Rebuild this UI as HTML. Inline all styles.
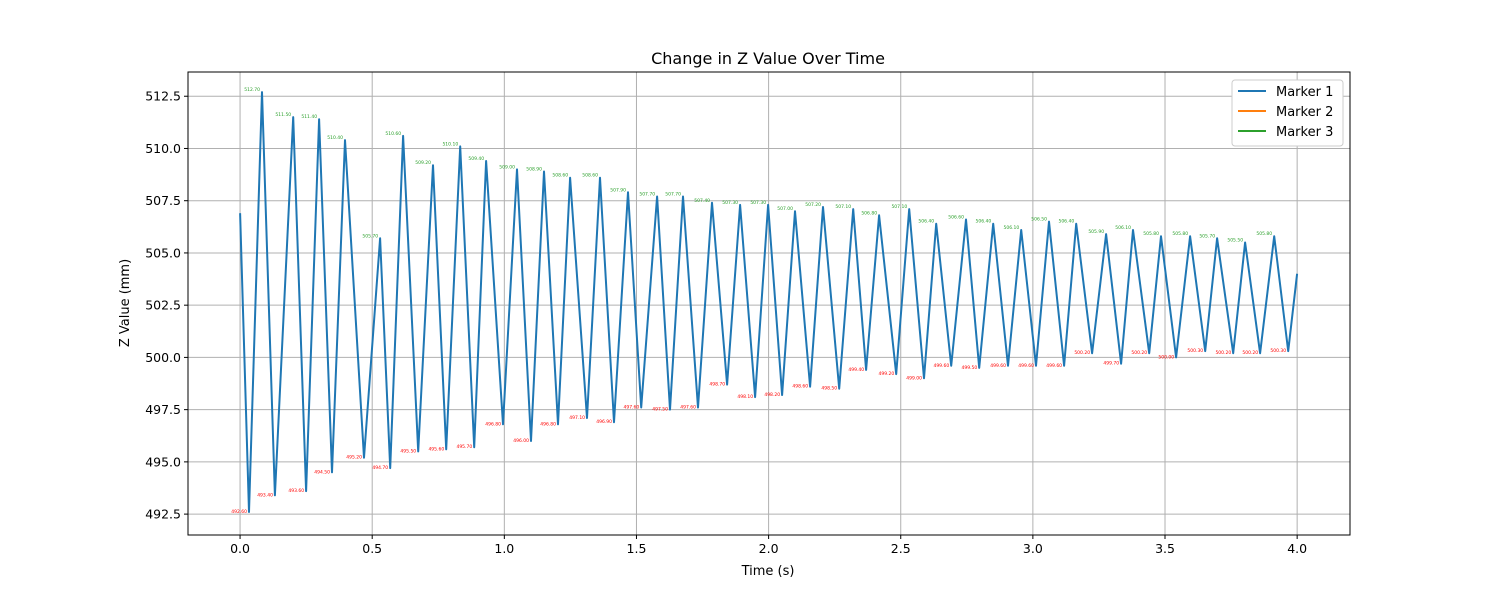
<!DOCTYPE html>
<html><head><meta charset="utf-8"><style>
body{margin:0;background:#fff;font-family:"Liberation Sans","DejaVu Sans",sans-serif}
svg text{font-family:"DejaVu Sans","Liberation Sans",sans-serif}
</style></head><body>
<svg id="chart" width="1500" height="600" viewBox="0 0 1500 600" xmlns="http://www.w3.org/2000/svg">
<rect width="1500" height="600" fill="#fff"/>
<text x="768" y="64" font-size="16" text-anchor="middle">Change in Z Value Over Time</text>
<text x="768" y="575" font-size="13" text-anchor="middle">Time (s)</text>
<text transform="translate(129,303) rotate(-90)" font-size="13" text-anchor="middle">Z Value (mm)</text>
<g id="grid"></g><g id="ticks"></g><g id="series"></g><g id="labels"></g>
<rect x="188" y="72" width="1162" height="463" fill="none" stroke="#000" stroke-width="1"/>
<g>
<rect x="1232" y="80" width="111" height="66" rx="3" fill="#fff" stroke="#ccc"/>
<line x1="1238" y1="91" x2="1266" y2="91" stroke="#1f77b4" stroke-width="2"/>
<text x="1276" y="96" font-size="13">Marker 1</text>
<line x1="1238" y1="111" x2="1266" y2="111" stroke="#ff7f0e" stroke-width="2"/>
<text x="1276" y="116" font-size="13">Marker 2</text>
<line x1="1238" y1="131" x2="1266" y2="131" stroke="#2ca02c" stroke-width="2"/>
<text x="1276" y="136" font-size="13">Marker 3</text>
</g>
</svg>
<script>
const xTicks=[0,0.5,1.0,1.5,2.0,2.5,3.0,3.5,4.0];
const yTicks=[492.5,495.0,497.5,500.0,502.5,505.0,507.5,510.0,512.5];
const startPoint=[0,506.9];
const endPoint=[4.0,504.0];
const troughTimes=[0.034,0.132,0.250,0.348,0.469,0.568,0.674,0.780,0.886,0.995,1.101,1.203,1.313,1.415,1.518,1.627,1.733,1.843,1.949,2.051,2.157,2.267,2.369,2.483,2.588,2.691,2.797,2.906,3.012,3.118,3.224,3.334,3.440,3.542,3.652,3.758,3.860,3.966];
const troughValues=[492.6,493.4,493.6,494.5,495.2,494.7,495.5,495.6,495.7,496.8,496.0,496.8,497.1,496.9,497.6,497.5,497.6,498.7,498.1,498.2,498.6,498.5,499.4,499.2,499.0,499.6,499.5,499.6,499.6,499.6,500.2,499.7,500.2,500.0,500.3,500.2,500.2,500.3];
const peakTimes=[0.083,0.201,0.299,0.397,0.530,0.617,0.730,0.833,0.931,1.048,1.150,1.249,1.362,1.468,1.578,1.676,1.786,1.892,1.998,2.100,2.206,2.320,2.418,2.532,2.634,2.747,2.850,2.956,3.061,3.164,3.277,3.379,3.485,3.595,3.697,3.803,3.913];
const peakValues=[512.7,511.5,511.4,510.4,505.7,510.6,509.2,510.1,509.4,509.0,508.9,508.6,508.6,507.9,507.7,507.7,507.4,507.3,507.3,507.0,507.2,507.1,506.8,507.1,506.4,506.6,506.4,506.1,506.5,506.4,505.9,506.1,505.8,505.8,505.7,505.5,505.8];

const NS="http://www.w3.org/2000/svg";
const X0=188,X1=1350,Y0=535,Y1=72,XMIN=-0.197,XMAX=4.2,YMIN=491.5,YMAX=513.66;
function sx(t){return X0+(t-XMIN)/(XMAX-XMIN)*(X1-X0);}
function sy(v){return Y0-(v-YMIN)/(YMAX-YMIN)*(Y0-Y1);}
function mk(tag,attrs,parent){const e=document.createElementNS(NS,tag);for(const k in attrs)e.setAttribute(k,attrs[k]);parent.appendChild(e);return e;}
const grid=document.getElementById('grid'),ticks=document.getElementById('ticks'),series=document.getElementById('series'),labels=document.getElementById('labels');
xTicks.forEach(t=>{const x=sx(t);
 const g=mk('line',{x1:x,x2:x,y1:Y1,y2:Y0,stroke:'#b0b0b0','stroke-width':1},grid);
 
 
 mk('line',{x1:x,x2:x,y1:Y0,y2:Y0+4,stroke:'#000'},ticks);
 const tx=mk('text',{x:x,y:Y0+18,'font-size':12.5,'text-anchor':'middle'},ticks);tx.textContent=t.toFixed(1);
 
 
});
yTicks.forEach(v=>{const y=sy(v);
 const g=mk('line',{x1:X0,x2:X1,y1:y,y2:y,stroke:'#b0b0b0','stroke-width':1},grid);
 
 
 mk('line',{x1:X0-4,x2:X0,y1:y,y2:y,stroke:'#000'},ticks);
 const tx=mk('text',{x:X0-7,y:y+4.5,'font-size':12.5,'text-anchor':'end'},ticks);tx.textContent=v.toFixed(1);
 
 
});
const pts=[startPoint];
for(let i=0;i<troughTimes.length;i++){pts.push([troughTimes[i],troughValues[i]]);if(i<peakTimes.length)pts.push([peakTimes[i],peakValues[i]]);}
pts.push(endPoint);
const d=pts.map((p,i)=>(i?'L':'M')+sx(p[0]).toFixed(1)+','+sy(p[1]).toFixed(1)).join(' ');
const line=mk('path',{d:d,fill:'none',stroke:'#1f77b4','stroke-width':2,'stroke-linejoin':'round'},series);


peakTimes.forEach((t,i)=>{const tx=mk('text',{x:sx(t)-2,y:sy(peakValues[i])-1,'font-size':4.5,'text-anchor':'end',fill:'#2ca02c'},labels);tx.textContent=peakValues[i].toFixed(2);
 
 });
troughTimes.forEach((t,i)=>{const tx=mk('text',{x:sx(t)-2,y:sy(troughValues[i])+1,'font-size':4.5,'text-anchor':'end',fill:'#ff0000'},labels);tx.textContent=troughValues[i].toFixed(2);
 
 });
</script>
</body></html>
